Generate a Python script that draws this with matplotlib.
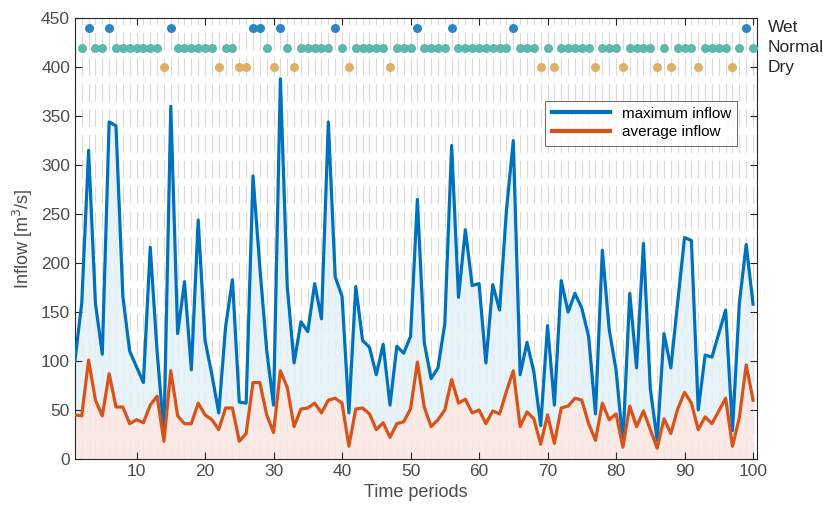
import matplotlib
matplotlib.use('Agg')
import matplotlib.pyplot as plt
import matplotlib.transforms as mtransforms
import numpy as np

plt.rcParams['font.family'] = ['Liberation Sans', 'DejaVu Sans']

periods = list(range(1, 101))

max_inflow = [100, 159, 315, 159, 107, 344, 340, 166, 110, 94,
              78, 216, 110, 26, 360, 128, 181, 91, 244, 121,
              86, 47, 135, 183, 58, 57, 289, 196, 111, 55,
              388, 176, 98, 140, 130, 179, 143, 344, 186, 166,
              47, 176, 121, 114, 86, 117, 55, 115, 108, 125,
              265, 119, 82, 93, 138, 320, 165, 234, 177, 179,
              98, 178, 152, 254, 325, 86, 119, 89, 34, 136,
              55, 182, 150, 169, 154, 125, 46, 213, 132, 91,
              17, 169, 93, 220, 72, 19, 128, 93, 160, 226,
              223, 50, 106, 104, 128, 152, 29, 159, 219, 158]

avg_inflow = [45, 44, 101, 60, 44, 87, 53, 53, 36, 40,
              37, 55, 64, 18, 90, 44, 36, 36, 57, 45,
              40, 30, 52, 52, 18, 26, 78, 78, 45, 27,
              90, 73, 33, 51, 52, 57, 47, 60, 62, 57,
              13, 51, 52, 46, 30, 37, 22, 36, 38, 51,
              99, 53, 33, 40, 50, 81, 57, 61, 47, 50,
              36, 49, 46, 69, 90, 33, 48, 41, 15, 45,
              16, 52, 54, 62, 60, 36, 19, 57, 40, 46,
              12, 54, 33, 49, 30, 11, 41, 26, 51, 68,
              57, 30, 43, 36, 49, 62, 13, 42, 96, 60]

wet_periods = [3, 6, 15, 27, 28, 31, 39, 51, 56, 65, 99]
dry_periods = [14, 22, 25, 26, 30, 33, 41, 47, 69, 71, 77, 81, 86, 88, 92, 97]
normal_periods = [2, 4, 5, 7, 8, 9, 10, 11, 12, 13, 16, 17, 18, 19, 20, 21, 23, 24,
                  29, 32, 34, 35, 36, 37, 38, 40, 42, 43, 44, 45, 46, 48, 49, 50,
                  52, 53, 54, 55, 57, 58, 59, 60, 61, 62, 63, 64, 66, 67, 68, 70,
                  72, 73, 74, 75, 76, 78, 79, 80, 82, 83, 84, 85, 87, 89, 90, 91,
                  93, 94, 95, 96, 98, 100]
regime_labels = ['Dry', 'Normal', 'Wet']
regime_levels = [400, 420, 440]

blue = '#0072BD'
red = '#D95319'
txt = '#262626'

fig = plt.figure(figsize=(8.23, 5.18), dpi=100)
ax = fig.add_axes([0.091, 0.114, 0.829, 0.851])

x = np.array(periods)
mx = np.array(max_inflow)
av = np.array(avg_inflow)

# vertical dashed guide at every period
for p in periods:
    ax.axvline(p, color='#dadada', lw=0.8, ls=(0, (16, 7)), zorder=0)

ax.fill_between(x, av, mx, color='#e3f0f8', alpha=0.85, lw=0, zorder=1)
ax.fill_between(x, 0, av, color='#fbe6e1', alpha=0.85, lw=0, zorder=1)
ax.plot(x, mx, color=blue, lw=2.3, label='maximum inflow', zorder=3)
ax.plot(x, av, color=red, lw=2.3, label='average inflow', zorder=3)

ax.scatter(wet_periods, [regime_levels[2]] * len(wet_periods), s=42, color='#2b86c5', lw=0, zorder=4)
ax.scatter(normal_periods, [regime_levels[1]] * len(normal_periods), s=42, color='#5cb8aa', lw=0, zorder=4)
ax.scatter(dry_periods, [regime_levels[0]] * len(dry_periods), s=42, color='#deb066', lw=0, zorder=4)

trans = mtransforms.blended_transform_factory(ax.transAxes, ax.transData)
for lab, lev in zip(regime_labels, regime_levels):
    ax.text(1.016, lev, lab, transform=trans, va='center', ha='left', fontsize=12.5, color=txt)

ax.set_xlim(1, 100.6)
ax.set_ylim(0, 450)
ax.set_xticks(range(10, 101, 10))
ax.set_yticks(range(0, 451, 50))
ax.tick_params(direction='in', top=True, right=True, length=5, width=0.8,
               labelsize=12.5, colors=txt, labelcolor='#4d4d4d')
for s in ax.spines.values():
    s.set_color(txt)
    s.set_linewidth(0.8)

ax.set_xlabel('Time periods', fontsize=13, color='#4d4d4d')
ax.set_ylabel('Inflow [m$^3$/s]', fontsize=13, color='#4d4d4d')

leg = ax.legend(loc='upper right', bbox_to_anchor=(0.982, 0.83), fontsize=11,
                handlelength=3.8, frameon=True, fancybox=False, borderpad=0.4,
                labelspacing=0.3)
leg.get_frame().set_edgecolor('#262626')
leg.get_frame().set_linewidth(0.6)
for line in leg.get_lines():
    line.set_linewidth(3)

fig.savefig('out.png', dpi=100)
